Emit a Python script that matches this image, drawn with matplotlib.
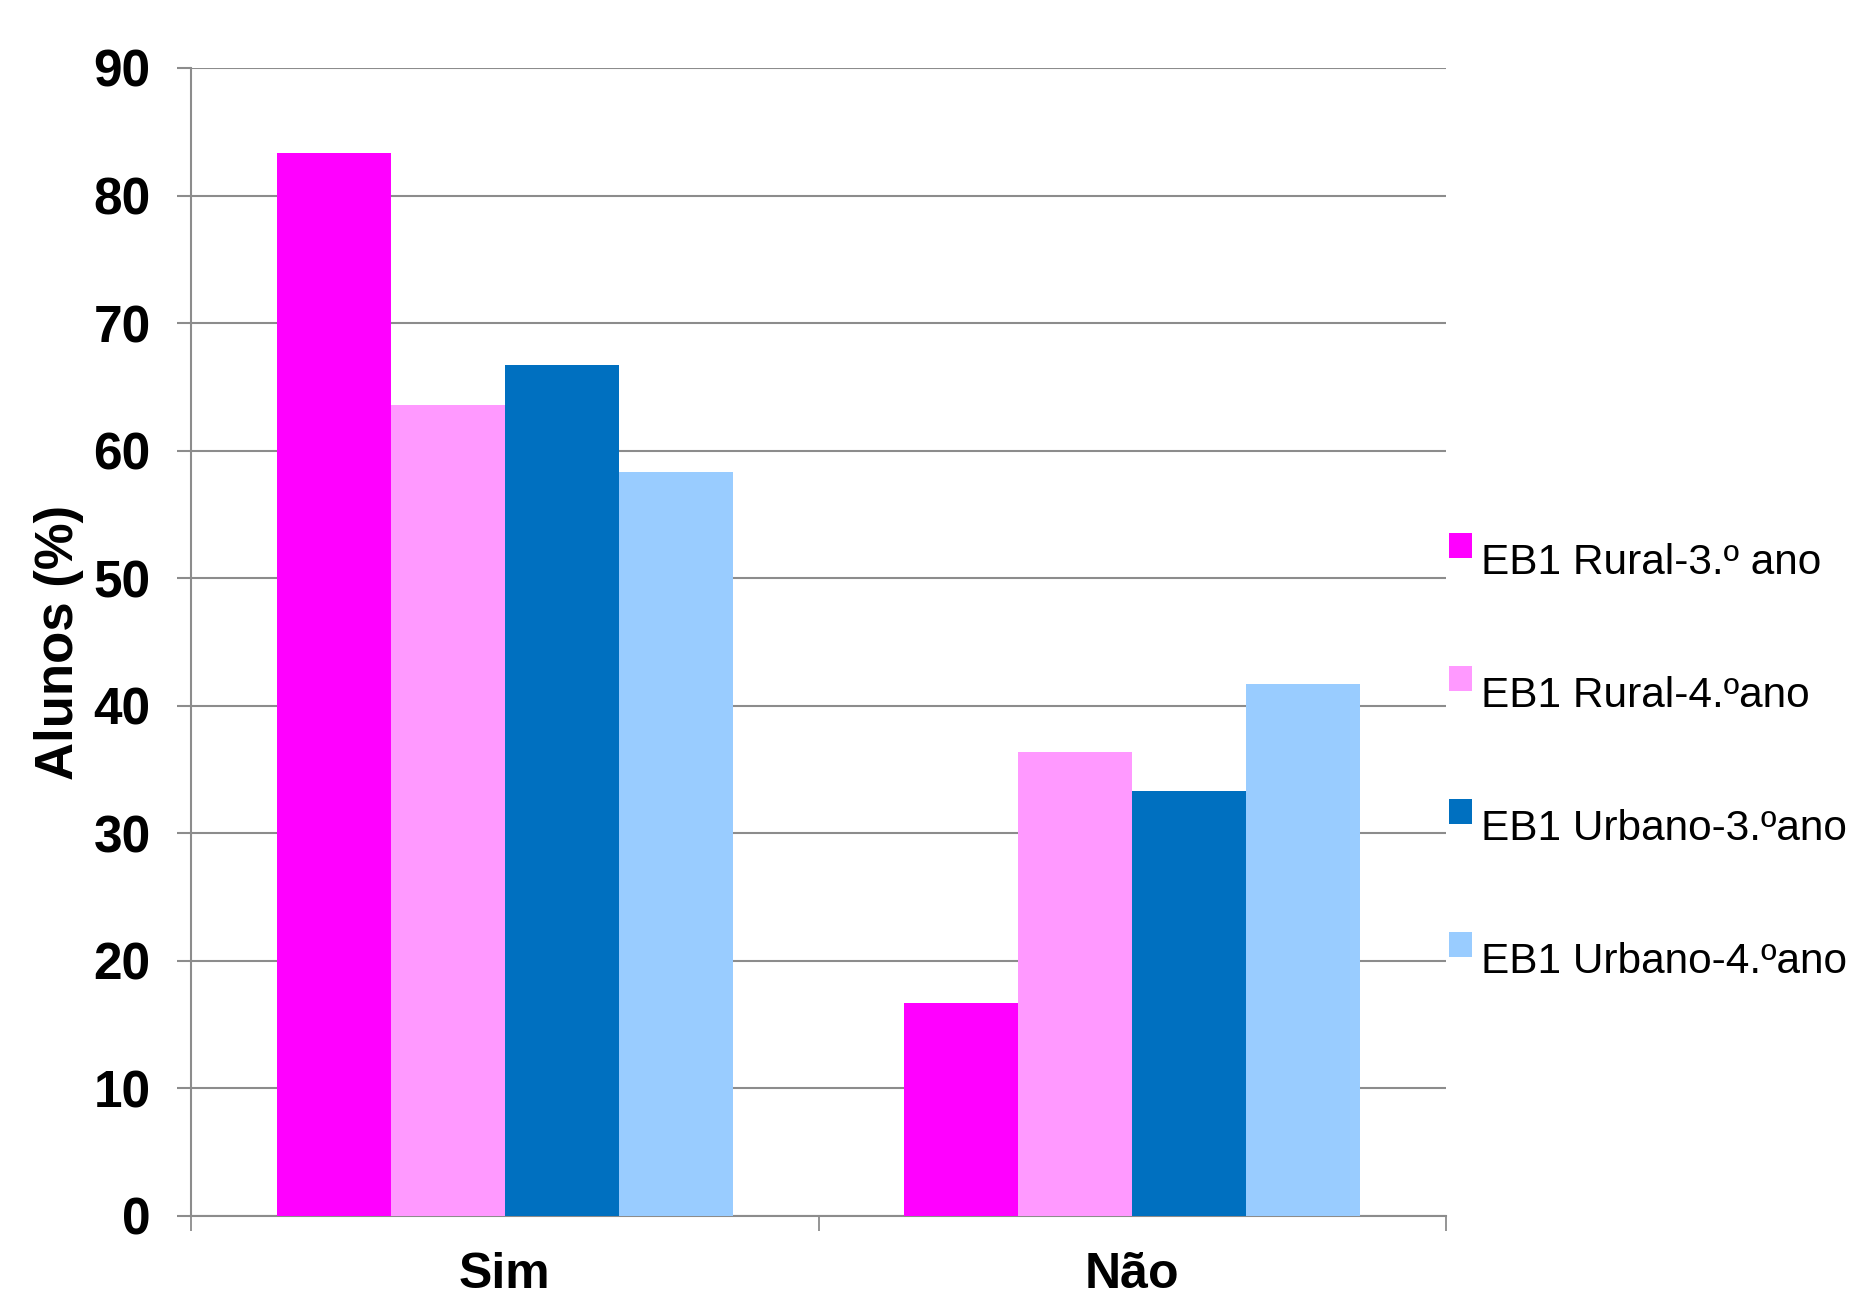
import matplotlib
matplotlib.use("Agg")
import matplotlib.pyplot as plt
import matplotlib.patches as mpatches
from matplotlib.container import BarContainer
from matplotlib.legend_handler import HandlerPatch, update_from_first_child
import numpy as np

plt.rcParams['font.family'] = ['Liberation Sans', 'DejaVu Sans']

categories = ["Sim", "Não"]
series_names = ["EB1 Rural-3.º ano", "EB1 Rural-4.ºano", "EB1 Urbano-3.ºano", "EB1 Urbano-4.ºano"]
series_colors = ["#FF00FF", "#FF99FF", "#0070C0", "#99CCFF"]
rural_3 = [83.3, 16.7]
rural_4 = [63.6, 36.4]
urbano_3 = [66.7, 33.3]
urbano_4 = [58.3, 41.7]
series_values = [rural_3, rural_4, urbano_3, urbano_4]
y_ticks = [0, 10, 20, 30, 40, 50, 60, 70, 80, 90]

grid_color = "#8C8C8C"


def raised_square(legend, orig_handle, xdescent, ydescent, width, height, fontsize):
    # legend key sits a bit above the text middle, like in Excel
    return mpatches.Rectangle((-xdescent, -ydescent + 0.32 * fontsize), width, height)


fig = plt.figure(figsize=(18.51, 12.97), dpi=100)
ax = fig.add_axes([0.1032, 0.0625, 0.6780, 0.8851])

x = np.arange(len(categories))
bar_w = 1 / 5.5
n = len(series_values)
for i, (vals, color, name) in enumerate(zip(series_values, series_colors, series_names)):
    offset = (i - (n - 1) / 2) * bar_w
    ax.bar(x + offset, vals, width=bar_w, color=color, label=name, linewidth=0, zorder=3)

ax.set_xlim(-0.5, 1.5)
ax.set_ylim(0, 90)
ax.set_yticks(y_ticks)
ax.set_yticklabels([str(t) for t in y_ticks], fontsize=37, fontweight='bold')
ax.yaxis.grid(True, color=grid_color, linewidth=1.5, zorder=0)
ax.set_axisbelow(True)

# category ticks sit between the groups
ax.set_xticks([-0.5, 0.5, 1.5])
ax.set_xticklabels([])
ax.set_xticks(x, minor=True)
ax.set_xticklabels(categories, minor=True, fontsize=36, fontweight='bold')
ax.tick_params(axis='x', which='minor', length=0, pad=26)
ax.tick_params(axis='x', which='major', length=11, width=1.3, color=grid_color)
ax.tick_params(axis='y', length=10, width=1.5, color=grid_color, pad=19)

for s in ["top", "right"]:
    ax.spines[s].set_visible(False)
for s in ["left", "bottom"]:
    ax.spines[s].set_color(grid_color)
    ax.spines[s].set_linewidth(1.5)

ax.set_ylabel("Alunos (%)", fontsize=38, fontweight='bold')
ax.yaxis.set_label_coords(-0.085, 0.5)

fig.legend(loc='center left', bbox_to_anchor=(0.783, 0.412), frameon=False,
           fontsize=30.5, handlelength=0.53, handleheight=0.53, handletextpad=0.22,
           labelspacing=2.2, borderpad=0, borderaxespad=0,
           handler_map={BarContainer: HandlerPatch(patch_func=raised_square,
                                                   update_func=update_from_first_child)})

fig.savefig("out.png", dpi=100)
